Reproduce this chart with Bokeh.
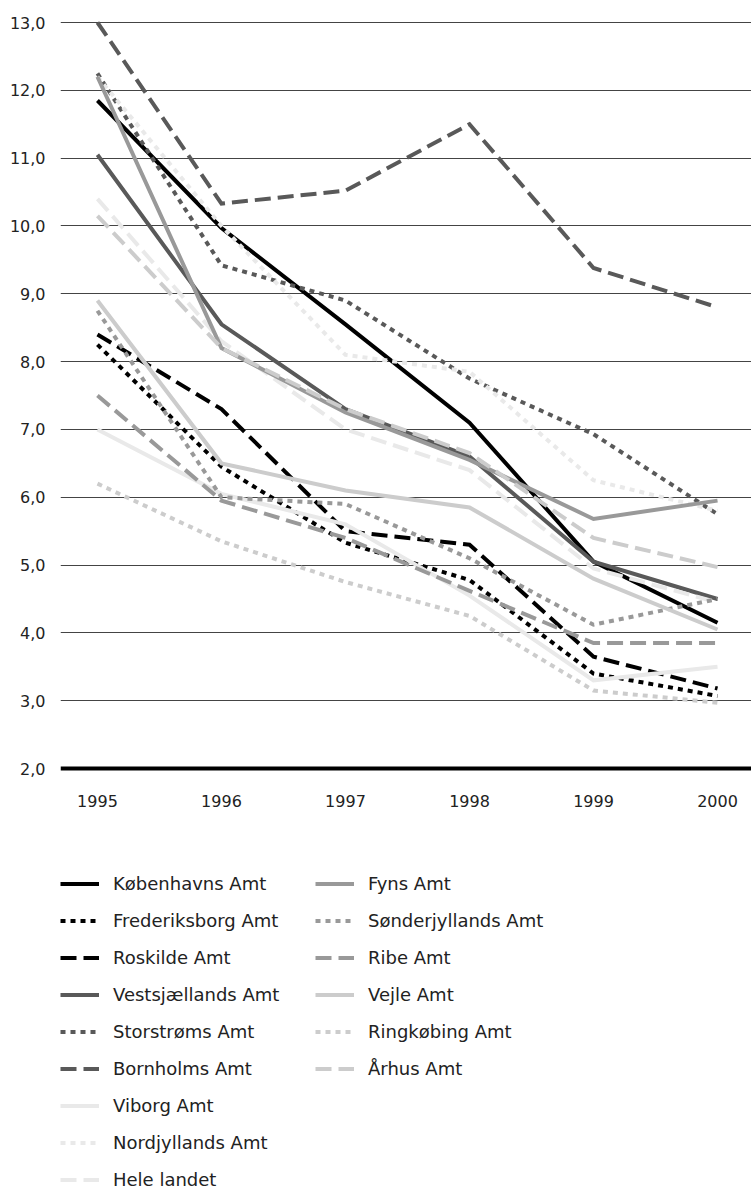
from bokeh.plotting import figure
from bokeh.models import Range1d, FixedTicker, CustomJSTickFormatter, Legend, LegendItem, Span
from bokeh.core.properties import value
from bokeh.embed import file_html
from bokeh.resources import INLINE

years = [1995, 1996, 1997, 1998, 1999, 2000]
year_labels = ["1995", "1996", "1997", "1998", "1999", "2000"]
y_ticks = [2, 3, 4, 5, 6, 7, 8, 9, 10, 11, 12, 13]

kobenhavn = [11.85, 9.97, 8.55, 7.10, 5.05, 4.15]
frederiksborg = [8.25, 6.45, 5.33, 4.78, 3.40, 3.07]
roskilde = [8.40, 7.30, 5.50, 5.30, 3.65, 3.18]
vestsjaelland = [11.05, 8.55, 7.30, 6.60, 5.05, 4.50]
storstrom = [12.25, 9.42, 8.90, 7.75, 6.93, 5.75]
bornholm = [13.00, 10.33, 10.52, 11.50, 9.38, 8.80]
viborg = [7.00, 6.05, 5.60, 4.55, 3.30, 3.50]
nordjylland = [12.20, 10.00, 8.10, 7.85, 6.25, 5.80]
hele_landet = [10.40, 8.30, 7.00, 6.40, 4.95, 4.45]
fyn = [12.20, 8.20, 7.25, 6.55, 5.68, 5.95]
sonderjylland = [8.75, 6.00, 5.90, 5.10, 4.12, 4.50]
ribe = [7.50, 5.95, 5.40, 4.62, 3.85, 3.85]
vejle = [8.90, 6.50, 6.10, 5.85, 4.80, 4.05]
ringkobing = [6.20, 5.35, 4.75, 4.25, 3.15, 2.97]
aarhus = [10.15, 8.20, 7.30, 6.65, 5.40, 4.97]

names = ["Københavns Amt", "Frederiksborg Amt", "Roskilde Amt", "Vestsjællands Amt",
         "Storstrøms Amt", "Bornholms Amt", "Viborg Amt", "Nordjyllands Amt", "Hele landet",
         "Fyns Amt", "Sønderjyllands Amt", "Ribe Amt", "Vejle Amt", "Ringkøbing Amt", "Århus Amt"]
series = [kobenhavn, frederiksborg, roskilde, vestsjaelland, storstrom, bornholm,
          viborg, nordjylland, hele_landet, fyn, sonderjylland, ribe, vejle, ringkobing, aarhus]

BLACK, DARK, MID, LIGHT, PALE = "#000000", "#595959", "#999999", "#cccccc", "#e9e9e9"
SOLID, DOT, DASH = "solid", "5 5", "16 7"
styles = [(BLACK, SOLID), (BLACK, DOT), (BLACK, DASH),
          (DARK, SOLID), (DARK, DOT), (DARK, DASH),
          (PALE, SOLID), (PALE, DOT), (PALE, DASH),
          (MID, SOLID), (MID, DOT), (MID, DASH),
          (LIGHT, SOLID), (LIGHT, DOT), (LIGHT, DASH)]

FONT = "DejaVu Sans"
TEXT = "#222222"

W, H = 751, 1190
PX_PER_UNIT = 67.82
Y_TOP = 13 + 22 / PX_PER_UNIT
Y_BOTTOM = Y_TOP - H / PX_PER_UNIT

p = figure(width=W, height=H, output_backend="svg", toolbar_location=None,
           x_range=Range1d(1994.702, 2000.274), y_range=Range1d(Y_BOTTOM, Y_TOP),
           min_border_left=60, min_border_right=0, min_border_top=0, min_border_bottom=0)
p.outline_line_color = None
p.background_fill_color = "white"
p.border_fill_color = "white"
p.xaxis.visible = False

p.yaxis.ticker = FixedTicker(ticks=y_ticks)
p.yaxis.formatter = CustomJSTickFormatter(code="return tick.toFixed(1).replace('.', ',')")
p.yaxis.axis_line_color = None
p.yaxis.major_tick_line_color = None
p.yaxis.major_tick_out = 0
p.yaxis.major_tick_in = 0
p.yaxis.minor_tick_line_color = None
p.yaxis.major_label_standoff = 15
p.yaxis.major_label_text_font = FONT
p.yaxis.major_label_text_font_size = "16px"
p.yaxis.major_label_text_color = TEXT

p.xgrid.visible = False
p.ygrid.ticker = FixedTicker(ticks=y_ticks[1:])
p.ygrid.grid_line_color = "#444444"
p.ygrid.grid_line_width = 1

# baseline at the lowest tick, and year labels below it
p.add_layout(Span(location=y_ticks[0], dimension="width", line_color="black", line_width=4))
p.text(x=years, y=[y_ticks[0]] * len(years), text=year_labels,
       text_font=value(FONT), text_font_size="16px", text_color=TEXT,
       text_align="center", text_baseline="middle", y_offset=32)

items = []
for name, vals, (color, dash) in zip(names, series, styles):
    r = p.line(years, vals, line_color=color, line_width=4, line_dash=dash,
               line_cap="butt", line_join="miter")
    items.append(LegendItem(label=name, renderers=[r]))

ITEM_H, GAP, NROWS = 21, 16, 9
LEG_TOP = 872.5  # figure px: top of first legend row
leg_h = NROWS * ITEM_H + (NROWS - 1) * GAP
legend = Legend(items=items, location=(0, H - LEG_TOP - leg_h), orientation="vertical",
                nrows=NROWS, glyph_width=39, glyph_height=ITEM_H, label_height=ITEM_H,
                label_width=186, label_standoff=14, spacing=GAP, padding=0, margin=0,
                border_line_color=None, background_fill_alpha=0,
                label_text_font=FONT, label_text_font_size="18px",
                label_text_color=TEXT)
p.add_layout(legend, "center")

open("out.html", "w").write(file_html(p, INLINE))
